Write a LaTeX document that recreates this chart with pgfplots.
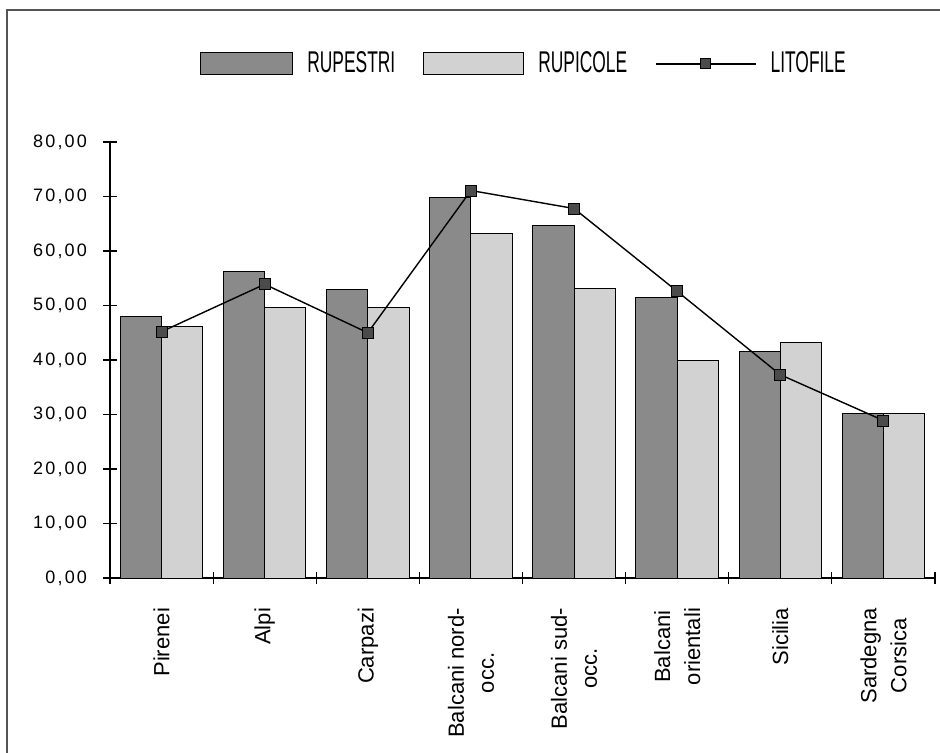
\documentclass[border=0pt]{standalone}
\usepackage{fontspec}
\setmainfont{Liberation Sans}
\newfontfamily\tickfont[LetterSpace=12]{Liberation Sans}
\newfontfamily\legfont[FakeStretch=0.58]{Liberation Sans}
\usepackage{pgfplots}
\pgfplotsset{compat=1.18}

\definecolor{darkbar}{RGB}{138,138,138}
\definecolor{lightbar}{RGB}{210,210,210}
\definecolor{markfill}{RGB}{75,75,75}
\definecolor{framegray}{RGB}{85,85,85}

\begin{document}
\begin{tikzpicture}
\useasboundingbox (0,0) rectangle (470pt,376pt);
% outer frame (top and left edges)
\draw[framegray, line width=1.2pt] (3.5pt,-2pt) -- (3.5pt,371pt) -- (472pt,371pt);

\begin{axis}[
  at={(55pt,87pt)}, anchor=south west,
  scale only axis, width=412.5pt, height=218pt,
  xmin=-0.5, xmax=7.5, ymin=0, ymax=80,
  axis x line=bottom, axis y line=left,
  axis line style={-, line width=0.6pt},
  tick align=center,
  major tick length=7pt, minor tick length=6pt,
  tick style={black, line width=0.6pt},
  ytick={0,10,...,80},
  yticklabel style={font=\tickfont\fontsize{9}{11}\selectfont, xshift=-4.5pt,
    /pgf/number format/.cd, fixed, fixed zerofill, precision=2, use comma,
    assume math mode=true},
  xtick={0,...,7},
  major x tick style={draw=none},
  minor xtick={-0.5,0.5,...,7.5},
  xticklabels={Pirenei, Alpi, Carpazi, {Balcani nord-\\occ.}, {Balcani sud-\\occ.},
    {Balcani\\orientali}, Sicilia, {Sardegna\\Corsica}},
  xticklabel style={rotate=90, anchor=east, align=center,
    font=\fontsize{11}{15}\selectfont},
  xticklabel shift=8pt,
  legend style={draw=none, fill=none, inner sep=0pt,
    at={(0.109,1.179)}, anchor=west,
    font=\legfont\fontsize{15}{17}\selectfont,
    /tikz/every odd column/.append style={column sep=5pt},
    /tikz/every even column/.append style={column sep=12pt}},
  legend columns=3,
]
\addplot[ybar, bar width=0.4, bar shift=-0.2, fill=darkbar, draw=black, line width=0.5pt,
  legend image code/.code={\draw[fill=darkbar, draw=black, line width=0.5pt] (0pt,-5.5pt) rectangle (46pt,5.5pt);}]
  coordinates {(0,48.0) (1,56.3) (2,52.9) (3,69.8) (4,64.7) (5,51.5) (6,41.5) (7,30.1)};
\addlegendentry{RUPESTRI}
\addplot[ybar, bar width=0.4, bar shift=0.2, fill=lightbar, draw=black, line width=0.5pt,
  legend image code/.code={\draw[fill=lightbar, draw=black, line width=0.5pt] (0pt,-5.5pt) rectangle (50pt,5.5pt);}]
  coordinates {(0,46.2) (1,49.6) (2,49.6) (3,63.2) (4,53.1) (5,39.9) (6,43.2) (7,30.2)};
\addlegendentry{RUPICOLE}
\addplot[black, line width=0.7pt, mark=square*, mark size=2.75pt,
  mark options={fill=markfill, draw=black, line width=0.5pt},
  legend image code/.code={\draw[black, line width=0.7pt, mark=square*, mark size=2.5pt,
      mark options={fill=markfill, draw=black, line width=0.5pt},
      mark repeat=2, mark phase=2] plot coordinates {(0pt,0pt) (25pt,0pt) (50pt,0pt)};}]
  coordinates {(0,45.2) (1,53.9) (2,45.0) (3,71.1) (4,67.8) (5,52.6) (6,37.3) (7,28.9)};
\addlegendentry{LITOFILE}
\end{axis}
\end{tikzpicture}
\end{document}
